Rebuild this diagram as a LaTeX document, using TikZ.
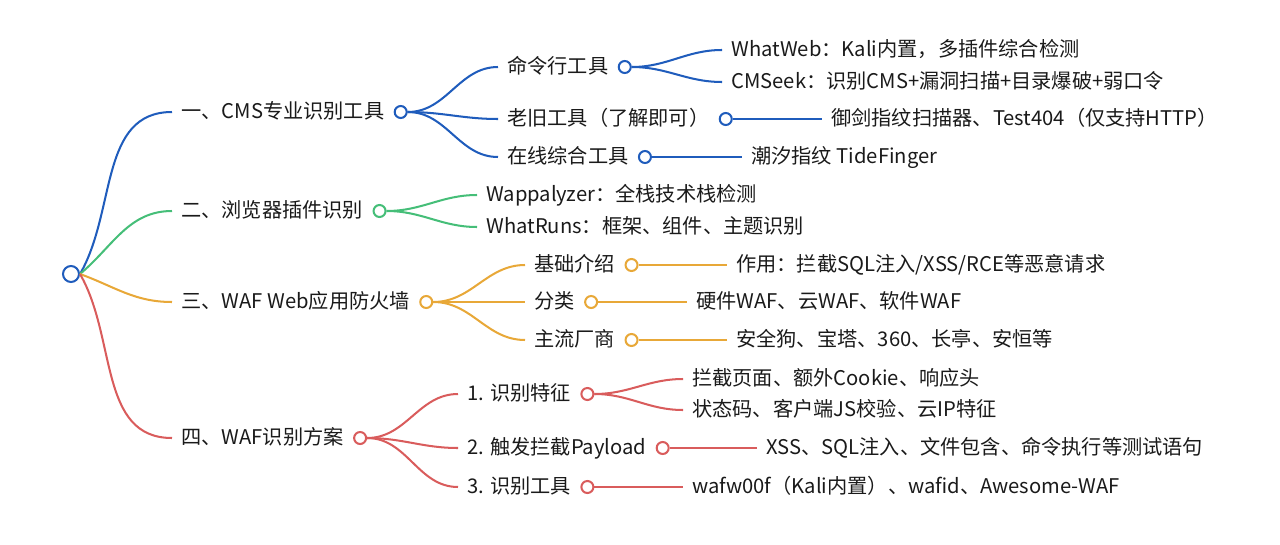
\documentclass[tikz,border=0pt]{standalone}
\usepackage{fontspec}
\setmainfont{Noto Sans CJK SC}
\usetikzlibrary{positioning}
\definecolor{coulA}{HTML}{1F5CBC}
\definecolor{coulB}{HTML}{45BE78}
\definecolor{coulC}{HTML}{E8A838}
\definecolor{coulD}{HTML}{D95C5C}
\definecolor{encre}{HTML}{1A1A1A}
\begin{document}
\begin{tikzpicture}[x=0.02cm,y=-0.02cm]
	% Styles (MODIFIABLES)
	\tikzstyle{fleche}=[-,line width=1.15pt]
	\tikzstyle{feuille}=[anchor=west,inner xsep=0.18cm,inner ysep=0pt,text height=0.88em,text depth=0.12em,text=encre,font=\fontsize{11.5pt}{13pt}\selectfont]
	\tikzstyle{rond}=[circle,draw,fill=white,line width=1.15pt,minimum size=0.24cm,inner sep=0pt]
	\tikzstyle{racine}=[rond,minimum size=0.32cm]
	% Cadre
	\useasboundingbox (0,0) rectangle (1280,544);
	% Noeuds
	\node[racine,draw=coulA] (R) at (71,274) {};
	%
	\node[feuille] (Ra) at (172,112) {一、CMS专业识别工具};
	\node[rond,draw=coulA,right=0pt of Ra] (oRa) {};
	\node[feuille] (Raa) at (498,67) {命令行工具};
	\node[rond,draw=coulA,right=0pt of Raa] (oRaa) {};
	\node[feuille] (Rab) at (498,119) {老旧工具（了解即可）};
	\node[rond,draw=coulA,right=0pt of Rab] (oRab) {};
	\node[feuille] (Rac) at (498,157) {在线综合工具};
	\node[rond,draw=coulA,right=0pt of Rac] (oRac) {};
	\node[feuille] (Raaa) at (722,50) {WhatWeb：Kali内置，多插件综合检测};
	\node[feuille] (Raab) at (722,82) {CMSeek：识别CMS+漏洞扫描+目录爆破+弱口令};
	\node[feuille] (Raba) at (822,119) {御剑指纹扫描器、Test404（仅支持HTTP）};
	\node[feuille] (Raca) at (742,157) {潮汐指纹 TideFinger};
	%
	\node[feuille] (Rb) at (172,211) {二、浏览器插件识别};
	\node[rond,draw=coulB,right=0pt of Rb] (oRb) {};
	\node[feuille] (Rba) at (477,195) {Wappalyzer：全栈技术栈检测};
	\node[feuille] (Rbb) at (477,227) {WhatRuns：框架、组件、主题识别};
	%
	\node[feuille] (Rc) at (172,302) {三、WAF Web应用防火墙};
	\node[rond,draw=coulC,right=0pt of Rc] (oRc) {};
	\node[feuille] (Rca) at (525,265) {基础介绍};
	\node[rond,draw=coulC,right=0pt of Rca] (oRca) {};
	\node[feuille] (Rcb) at (525,302) {分类};
	\node[rond,draw=coulC,right=0pt of Rcb] (oRcb) {};
	\node[feuille] (Rcc) at (525,340) {主流厂商};
	\node[rond,draw=coulC,right=0pt of Rcc] (oRcc) {};
	\node[feuille] (Rcaa) at (727,265) {作用：拦截SQL注入/XSS/RCE等恶意请求};
	\node[feuille] (Rcba) at (687,302) {硬件WAF、云WAF、软件WAF};
	\node[feuille] (Rcca) at (727,340) {安全狗、宝塔、360、长亭、安恒等};
	%
	\node[feuille] (Rd) at (172,438) {四、WAF识别方案};
	\node[rond,draw=coulD,right=0pt of Rd] (oRd) {};
	\node[feuille] (Rda) at (458,394) {1. 识别特征};
	\node[rond,draw=coulD,right=0pt of Rda] (oRda) {};
	\node[feuille] (Rdb) at (458,448) {2. 触发拦截Payload};
	\node[rond,draw=coulD,right=0pt of Rdb] (oRdb) {};
	\node[feuille] (Rdc) at (458,487) {3. 识别工具};
	\node[rond,draw=coulD,right=0pt of Rdc] (oRdc) {};
	\node[feuille] (Rdaa) at (683,379) {拦截页面、额外Cookie、响应头};
	\node[feuille] (Rdab) at (683,410) {状态码、客户端JS校验、云IP特征};
	\node[feuille] (Rdba) at (757,448) {XSS、SQL注入、文件包含、命令执行等测试语句};
	\node[feuille] (Rdca) at (683,487) {wafw00f（Kali内置）、wafid、Awesome-WAF};
	% Arcs
	\draw[fleche,coulA] (R.east) to[out=60,in=180] (Ra.west);
	\draw[fleche,coulB] (R.east) to[out=40,in=180] (Rb.west);
	\draw[fleche,coulC] (R.east) to[out=-20,in=180] (Rc.west);
	\draw[fleche,coulD] (R.east) to[out=-60,in=180] (Rd.west);
	%
	\draw[fleche,coulA] (oRa.east) to[out=0,in=180] (Raa.west);
	\draw[fleche,coulA] (oRa.east) to[out=0,in=180] (Rab.west);
	\draw[fleche,coulA] (oRa.east) to[out=0,in=180] (Rac.west);
	\draw[fleche,coulA] (oRaa.east) to[out=0,in=180] (Raaa.west);
	\draw[fleche,coulA] (oRaa.east) to[out=0,in=180] (Raab.west);
	\draw[fleche,coulA] (oRab.east) -- (Raba.west);
	\draw[fleche,coulA] (oRac.east) -- (Raca.west);
	%
	\draw[fleche,coulB] (oRb.east) to[out=0,in=180] (Rba.west);
	\draw[fleche,coulB] (oRb.east) to[out=0,in=180] (Rbb.west);
	%
	\draw[fleche,coulC] (oRc.east) to[out=0,in=180] (Rca.west);
	\draw[fleche,coulC] (oRc.east) -- (Rcb.west);
	\draw[fleche,coulC] (oRc.east) to[out=0,in=180] (Rcc.west);
	\draw[fleche,coulC] (oRca.east) -- (Rcaa.west);
	\draw[fleche,coulC] (oRcb.east) -- (Rcba.west);
	\draw[fleche,coulC] (oRcc.east) -- (Rcca.west);
	%
	\draw[fleche,coulD] (oRd.east) to[out=0,in=180] (Rda.west);
	\draw[fleche,coulD] (oRd.east) to[out=0,in=180] (Rdb.west);
	\draw[fleche,coulD] (oRd.east) to[out=0,in=180] (Rdc.west);
	\draw[fleche,coulD] (oRda.east) to[out=0,in=180] (Rdaa.west);
	\draw[fleche,coulD] (oRda.east) to[out=0,in=180] (Rdab.west);
	\draw[fleche,coulD] (oRdb.east) -- (Rdba.west);
	\draw[fleche,coulD] (oRdc.east) -- (Rdca.west);
\end{tikzpicture}
\end{document}
